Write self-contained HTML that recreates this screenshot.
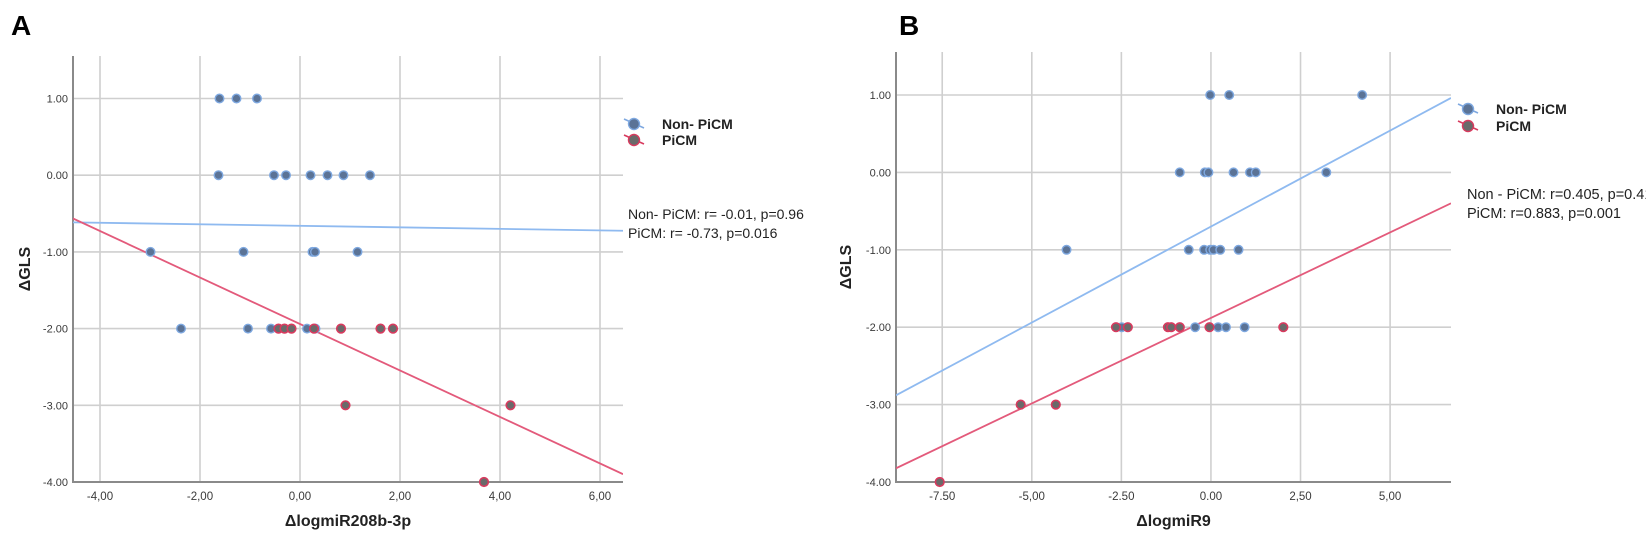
<!DOCTYPE html>
<html><head><meta charset="utf-8">
<style>
html,body{margin:0;padding:0;background:#fff;width:1646px;height:542px;overflow:hidden}
svg{display:block}
text{font-family:"Liberation Sans",sans-serif}
</style></head>
<body>
<svg id="fig" width="1646" height="542" xmlns="http://www.w3.org/2000/svg"></svg>
<script>
// ---- Panel A data ----
const aXTicks = [-4, -2, 0, 2, 4, 6];
const aXTickLabels = ["-4,00", "-2,00", "0,00", "2,00", "4,00", "6,00"];
const aYTicks = [1, 0, -1, -2, -3, -4];
const aYTickLabels = ["1.00", "0.00", "-1.00", "-2.00", "-3.00", "-4.00"];
const aNonX = [-1.61, -1.27, -0.86, -1.63, -0.52, -0.28, 0.21, 0.55, 0.87, 1.40, -2.99, -1.13, 0.25, 0.30, 1.15, -2.38, -1.04, -0.58, 0.14, 0.31];
const aNonY = [1, 1, 1, 0, 0, 0, 0, 0, 0, 0, -1, -1, -1, -1, -1, -2, -2, -2, -2, -2];
const aPiX = [-0.43, -0.31, -0.17, 0.28, 0.82, 1.61, 1.86, 0.91, 4.21, 3.68];
const aPiY = [-2, -2, -2, -2, -2, -2, -2, -3, -3, -4];
const aFitNon = [-0.66, -0.01];   // intercept, slope
const aFitPi = [-1.94, -0.303];
// ---- Panel B data ----
const bXTicks = [-7.5, -5, -2.5, 0, 2.5, 5];
const bXTickLabels = ["-7.50", "-5,00", "-2.50", "0.00", "2,50", "5,00"];
const bYTicks = [1, 0, -1, -2, -3, -4];
const bYTickLabels = ["1.00", "0.00", "-1.00", "-2.00", "-3.00", "-4.00"];
const bNonX = [-0.02, 0.51, 4.22, -0.87, -0.17, -0.07, 0.63, 1.09, 1.25, 3.22, -4.03, -0.62, -0.19, -0.02, 0.07, 0.26, 0.77, -2.49, -0.44, 0.20, 0.42, 0.94];
const bNonY = [1, 1, 1, 0, 0, 0, 0, 0, 0, 0, -1, -1, -1, -1, -1, -1, -1, -2, -2, -2, -2, -2];
const bPiX = [-2.65, -2.32, -1.20, -1.11, -0.87, -0.04, 2.02, -5.31, -4.33, -7.57];
const bPiY = [-2, -2, -2, -2, -2, -2, -2, -3, -3, -4];
const bFitNon = [-0.70, 0.248];
const bFitPi = [-1.88, 0.221];

const NS = "http://www.w3.org/2000/svg";
const svg = document.getElementById("fig");
function mk(tag, attrs, parent, txt) {
  const e = document.createElementNS(NS, tag);
  for (const k in attrs) e.setAttribute(k, attrs[k]);
  if (txt !== undefined) e.textContent = txt;
  (parent || svg).appendChild(e);
  return e;
}

function panel(cfg) {
  const g = mk("g", {});
  
  
  const sx = v => cfg.x0px + (v - cfg.xmin) / (cfg.xmax - cfg.xmin) * (cfg.x1px - cfg.x0px);
  const sy = v => cfg.y0px + (v - cfg.ymin) / (cfg.ymax - cfg.ymin) * (cfg.y1px - cfg.y0px);
  const L = cfg.x0px, R = cfg.x1px, B = cfg.y0px, T = cfg.top;
  cfg.xt.forEach((t, i) => {
    const l = mk("line", {x1: sx(t), x2: sx(t), y1: T, y2: B, stroke: "#cfcfcf", "stroke-width": 1.6}, g);
    
    
    const tl = mk("text", {x: sx(t), y: B + 18, "text-anchor": "middle", "font-size": 11.5, fill: "#3a3a3a"}, g, cfg.xl[i]);
    
    
  });
  cfg.yt.forEach((t, i) => {
    const l = mk("line", {x1: L, x2: R, y1: sy(t), y2: sy(t), stroke: "#cfcfcf", "stroke-width": 1.6}, g);
    
    
    const tl = mk("text", {x: L - 5, y: sy(t) + 4, "text-anchor": "end", "font-size": 11, fill: "#3a3a3a"}, g, cfg.yl[i]);
    
    
  });
  const ax = mk("path", {d: `M${L},${T} L${L},${B} L${R},${B}`, fill: "none", stroke: "#8a8a8a", "stroke-width": 2}, g);
  
  
  const cid = "clip" + cfg.id;
  const cp = mk("clipPath", {id: cid}, g);
  mk("rect", {x: L, y: T, width: R - L, height: B - T + 6}, cp);
  const pg = mk("g", {"clip-path": `url(#${cid})`}, g);
  [[cfg.fn, "#8fbaf0", "fit-line-non-picm"], [cfg.fp, "#e35a7b", "fit-line-picm"]].forEach(([f, c, n]) => {
    const ln = mk("line", {x1: L, y1: sy(f[0] + f[1] * cfg.xmin), x2: R, y2: sy(f[0] + f[1] * cfg.xmax), stroke: c, "stroke-width": 1.8}, pg);
    
    
  });
  cfg.nx.forEach((x, i) => {
    const c = mk("circle", {cx: sx(x), cy: sy(cfg.ny[i]), r: 4.3, fill: "#5b7396", stroke: "#7ea8e0", "stroke-width": 1.4}, pg);
    
    
  });
  cfg.px.forEach((x, i) => {
    const c = mk("circle", {cx: sx(x), cy: sy(cfg.py[i]), r: 4.3, fill: "#6a6a6a", stroke: "#d83a5e", "stroke-width": 1.6}, pg);
    
    
  });
  const xt = mk("text", {x: (L + R) / 2, y: B + 44, "text-anchor": "middle", "font-size": 16, "font-weight": "bold", fill: "#222"}, g, cfg.xtitle);
  
  
  const cy = (T + B) / 2;
  const yt = mk("text", {x: cfg.ytx, y: cy, "text-anchor": "middle", "font-size": 16, "font-weight": "bold", fill: "#222", transform: `rotate(-90 ${cfg.ytx} ${cy})`}, g, "ΔGLS");
  
  
  const pl = mk("text", {x: cfg.lx, y: 35, "font-size": 28, "font-weight": "bold", fill: "#000"}, g, cfg.id);
  
  
  [[cfg.leg[1], "#7ea8e0", "#5b7396", "Non- PiCM", "legend-entry-non-picm"], [cfg.leg[2], "#d83a5e", "#6a6a6a", "PiCM", "legend-entry-picm"]].forEach(([y, sc, fc, t, n]) => {
    const lg = mk("g", {}, g);
    
    
    const mx = cfg.leg[0];
    mk("line", {x1: mx - 10, y1: y - 5, x2: mx + 10, y2: y + 4, stroke: sc, "stroke-width": 1.6}, lg);
    mk("circle", {cx: mx, cy: y, r: 5.5, fill: fc, stroke: sc, "stroke-width": 1.4}, lg);
    mk("text", {x: mx + 28, y: y + 5, "font-size": 14, "font-weight": "bold", fill: "#222"}, lg, t);
  });
  cfg.stats.forEach((s, i) => {
    const st = mk("text", {x: cfg.statX, y: cfg.statY + i * 19, "font-size": cfg.statSize, fill: "#222", "font-family": cfg.statFont}, g, s);
    
    
  });
}

panel({id: "A", xmin: -4.54, xmax: 6.46, ymin: -4, ymax: 1, x0px: 73, x1px: 623, y0px: 482, y1px: 98.5, top: 56,
  xt: aXTicks, xl: aXTickLabels, yt: aYTicks, yl: aYTickLabels,
  nx: aNonX, ny: aNonY, px: aPiX, py: aPiY, fn: aFitNon, fp: aFitPi,
  xtitle: "ΔlogmiR208b-3p", ytx: 30, lx: 11, leg: [634, 124, 140],
  stats: ["Non- PiCM: r= -0.01, p=0.96", "PiCM: r= -0.73, p=0.016"], statX: 628, statY: 219, statSize: 14, statFont: '"Liberation Sans", sans-serif'});

panel({id: "B", xmin: -8.79, xmax: 6.7, ymin: -4, ymax: 1, x0px: 896, x1px: 1451, y0px: 482, y1px: 95, top: 52,
  xt: bXTicks, xl: bXTickLabels, yt: bYTicks, yl: bYTickLabels,
  nx: bNonX, ny: bNonY, px: bPiX, py: bPiY, fn: bFitNon, fp: bFitPi,
  xtitle: "ΔlogmiR9", ytx: 851, lx: 899, leg: [1468, 109, 126],
  stats: ["Non - PiCM: r=0.405, p=0.41", "PiCM: r=0.883, p=0.001"], statX: 1467, statY: 199, statSize: 14.5, statFont: '"Liberation Serif", serif'});
</script>
</body></html>
